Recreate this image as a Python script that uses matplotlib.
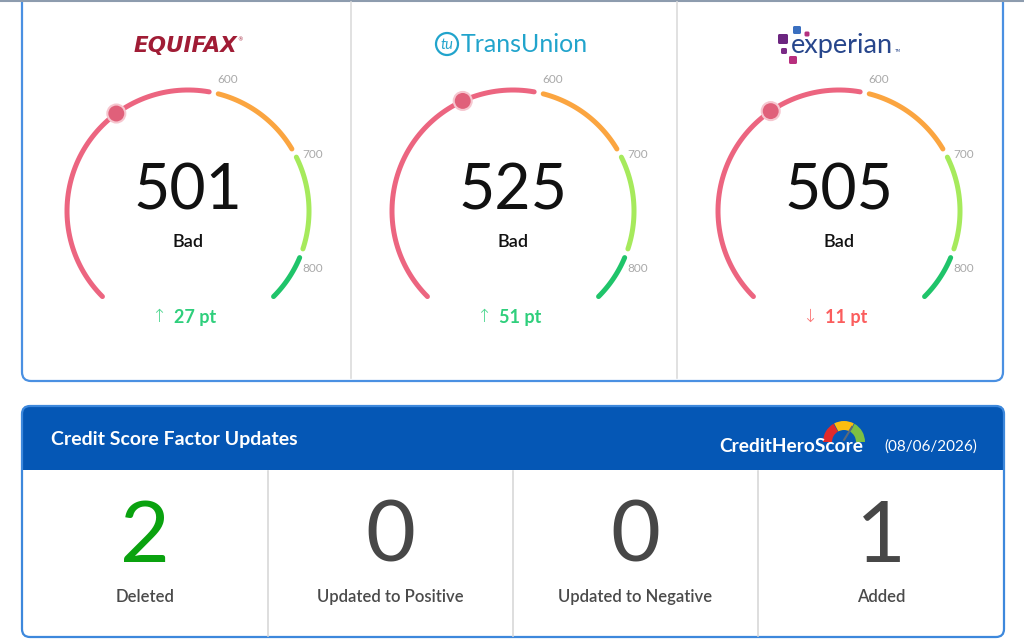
import numpy as np
import matplotlib

matplotlib.use("Agg")
import matplotlib.pyplot as plt
from matplotlib.patches import FancyBboxPatch, Rectangle, Circle, Wedge

# ---- data -------------------------------------------------------------
bureaus = ["Equifax", "TransUnion", "Experian"]
scores = [501, 525, 505]
ratings = ["Bad", "Bad", "Bad"]
changes = [27, 51, -11]

score_min, score_max = 300, 850
band_edges = [300, 600, 700, 800, 850]
band_colors = ["#ec6580", "#fba540", "#a6ea5c", "#1fc46a"]
tick_values = [600, 700, 800]

factor_labels = ["Deleted", "Updated to Positive", "Updated to Negative", "Added"]
factor_counts = [2, 0, 0, 1]
factor_colors = ["#0aa20f", "#474747", "#474747", "#474747"]

report_date = "(08/06/2026)"

# ---- layout (pixel space) ---------------------------------------------
W, H = 1024, 643
PT = 72 / 100  # px -> pt at dpi 100

fig = plt.figure(figsize=(W / 100, H / 100), dpi=100)
ax = fig.add_axes([0, 0, 1, 1])
ax.set_xlim(0, W)
ax.set_ylim(H, 0)
ax.axis("off")

FONT = ["Lato", "DejaVu Sans"]
BLUE_EDGE = "#4a90e2"

# top gray strip edge
ax.plot([0, W], [0.5, 0.5], color="#8d9cae", lw=1.5, solid_capstyle="butt")

# top panel
ax.add_patch(FancyBboxPatch((22, -30), 981, 411, boxstyle="round,pad=0,rounding_size=9",
                            fc="white", ec=BLUE_EDGE, lw=1.6))
for xd in [351, 677]:
    ax.plot([xd, xd], [2, 378], color="#dcdcdc", lw=1.2)

centers = [188, 513, 839]
cy = 211
R = 121


def angle_of(v):
    return np.deg2rad(225 - (v - score_min) / (score_max - score_min) * 270)


def arc_xy(cx, a0, a1, r=R):
    t = np.linspace(a0, a1, 80)
    return cx + r * np.cos(t), cy - r * np.sin(t)


gap = np.deg2rad(2.2)
for i, cx in enumerate(centers):
    for j, col in enumerate(band_colors):
        a0 = angle_of(band_edges[j]) - (gap if j > 0 else 0)
        a1 = angle_of(band_edges[j + 1]) + (gap if j < len(band_colors) - 1 else 0)
        x, y = arc_xy(cx, a0, a1)
        ax.plot(x, y, color=col, lw=5 * PT, solid_capstyle="round")
    for tv in tick_values:
        a = angle_of(tv) - np.deg2rad(4.5)
        ax.text(cx + 137 * np.cos(a), cy - 137 * np.sin(a), str(tv), ha="center", va="center",
                fontsize=8.5, color="#a9a9a9", family=FONT)
    # marker
    a = angle_of(scores[i])
    ax.add_patch(Circle((cx + R * np.cos(a), cy - R * np.sin(a)), 9, fc="#e0607a",
                        ec="#f6c6cf", lw=1.5, zorder=5))
    ax.text(cx, 191, str(scores[i]), ha="center", va="center", fontsize=45,
            color="#111111", family=FONT)
    ax.text(cx, 242, ratings[i], ha="center", va="center", fontsize=13,
            color="#111111", family=FONT, fontweight="semibold")
    ch = changes[i]
    ccol = "#2fcf7c" if ch >= 0 else "#fb5d5d"
    ax.text(cx - 22, 317, "\u2191" if ch >= 0 else "\u2193", ha="right", va="center",
            fontsize=13, color=ccol, family=["DejaVu Sans"], fontweight="light", alpha=0.85)
    ax.text(cx - 14, 317, f"{abs(ch)} pt", ha="left", va="center", fontsize=13,
            color=ccol, family=FONT, fontweight="bold")

# bureau logos
ax.text(185, 46, "EQUIFAX", ha="center", va="center", fontsize=15.5, color="#a01c35",
        family=["DejaVu Sans"], fontweight="bold", style="italic")
ax.text(240, 40, "\u00ae", ha="center", va="center", fontsize=4, color="#a01c35")

ax.add_patch(Circle((447, 44), 11, fc="none", ec="#21a4cc", lw=1.6))
ax.text(447, 45, "tu", ha="center", va="center", fontsize=10.5, color="#21a4cc",
        family=FONT, style="italic")
ax.text(461, 45, "TransUnion", ha="left", va="center", fontsize=18, color="#21a4cc",
        family=FONT)

for (sx, sy, s, c) in [(783, 39, 10, "#6c2580"), (797, 30, 8, "#3a6fc0"),
                       (807, 34, 5, "#b4307e"), (784, 51, 6, "#7a2a86"),
                       (793, 60, 8, "#b82f7e")]:
    ax.add_patch(FancyBboxPatch((sx - s / 2, sy - s / 2), s, s,
                                boxstyle="round,pad=0,rounding_size=1.5", fc=c, ec="none"))
ax.text(791, 45, "experian", ha="left", va="center", fontsize=19.5, color="#27468c",
        family=FONT)
ax.text(894, 51, "TM", ha="left", va="center", fontsize=3, color="#27468c")

# bottom panel
ax.add_patch(FancyBboxPatch((22, 406), 982, 74, boxstyle="round,pad=0,rounding_size=8",
                            fc="#0557b5", ec="none"))
ax.add_patch(Rectangle((23, 470), 980, 160, fc="white", ec="none"))
ax.add_patch(FancyBboxPatch((22, 406), 982, 231, boxstyle="round,pad=0,rounding_size=8",
                            fc="none", ec="#3d88dc", lw=1.6))
ax.text(51, 440, "Credit Score Factor Updates", ha="left", va="center", fontsize=14,
        color="white", family=FONT, fontweight="bold")

ax.text(719, 446, "CreditHeroScore", ha="left", va="center", fontsize=13.8,
        color="white", family=FONT, fontweight="bold")
# y axis is inverted, so wedge angles run clockwise on screen
for (t0, t1, c) in [(180, 240, "#e02b2b"), (242, 298, "#fbbd10"), (300, 360, "#7cc043")]:
    ax.add_patch(Wedge((844, 442), 21, t0, t1, width=9, fc=c, ec="none"))
ax.plot([844, 852], [440, 427], color="#5a6a7a", lw=1.5)
ax.text(884, 447, report_date, ha="left", va="center", fontsize=11, color="white",
        family=FONT)

cell_edges = [22, 268, 513, 758, 1004]
for xd in cell_edges[1:-1]:
    ax.plot([xd, xd], [471, 636], color="#d8d8d8", lw=1.2)
for k, lab in enumerate(factor_labels):
    x = (cell_edges[k] + cell_edges[k + 1]) / 2
    ax.text(x, 538, str(factor_counts[k]), ha="center", va="center", fontsize=62,
            color=factor_colors[k], family=FONT)
    ax.text(x, 597, lab, ha="center", va="center", fontsize=12, color="#4a4a4a",
            family=FONT, fontweight="semibold")

fig.savefig("out.png", dpi=100)
